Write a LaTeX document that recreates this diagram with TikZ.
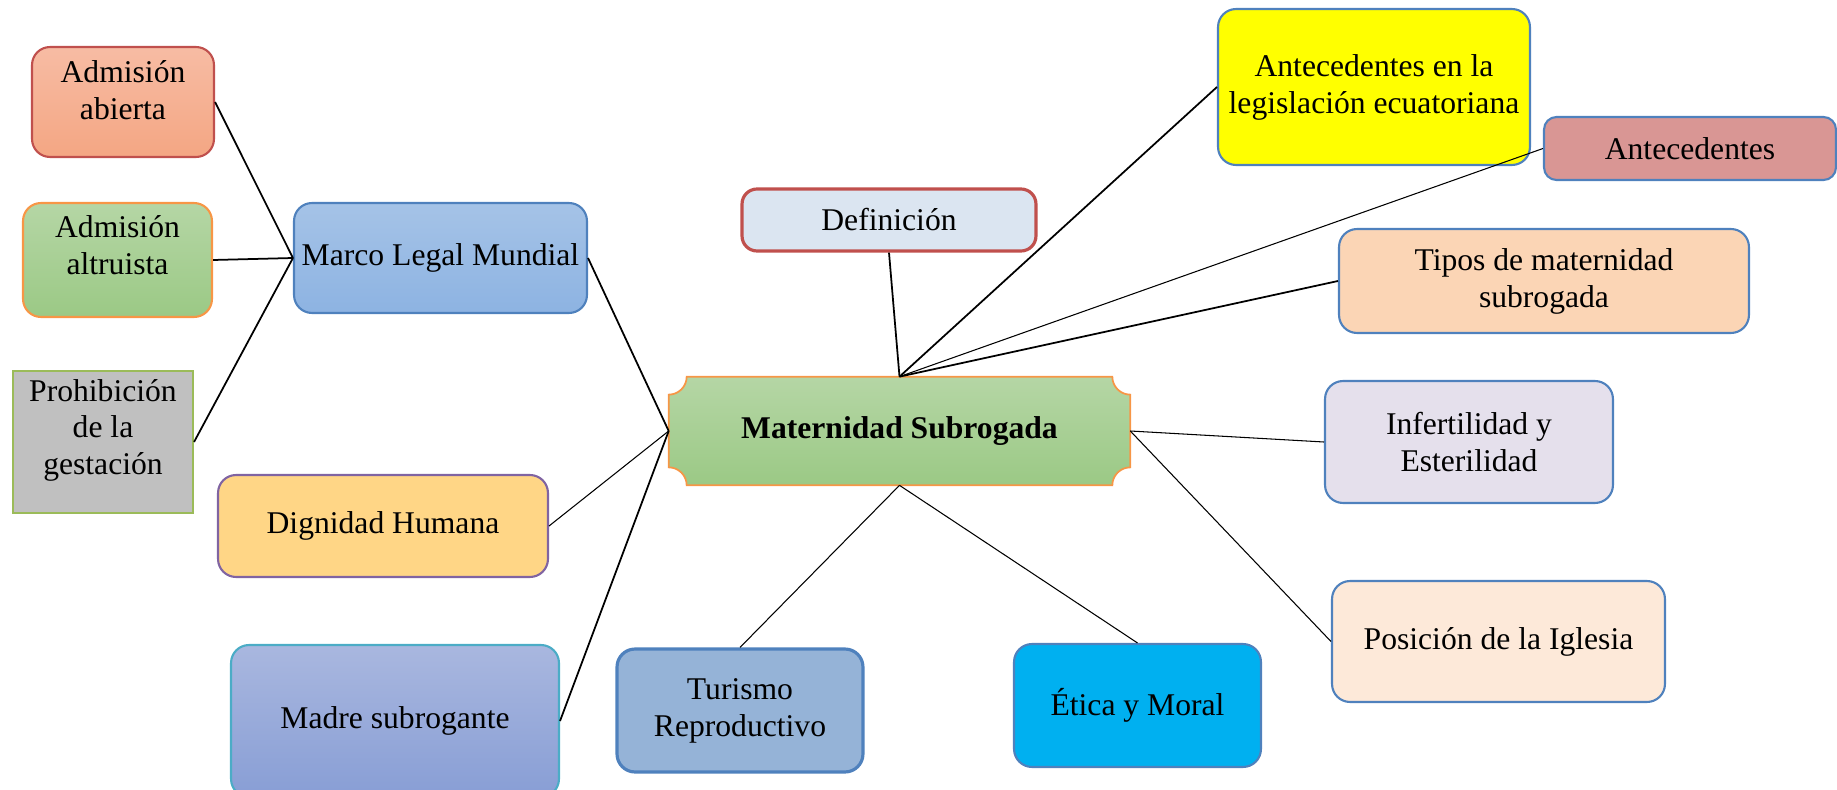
\documentclass[tikz,border=0pt]{standalone}
\usepackage{fontspec}
\setmainfont{Liberation Serif}
\usetikzlibrary{backgrounds}

\definecolor{salmonA}{HTML}{F7BCA4}
\definecolor{salmonB}{HTML}{F4A683}
\definecolor{bordeRojo}{HTML}{C0504D}
\definecolor{verdeA}{HTML}{B5D6A5}
\definecolor{verdeB}{HTML}{9BC985}
\definecolor{bordeNaranja}{HTML}{F79646}
\definecolor{gris}{HTML}{C0C0C0}
\definecolor{bordeOliva}{HTML}{9BBB59}
\definecolor{azulA}{HTML}{A5C3E7}
\definecolor{azulB}{HTML}{8DB3E2}
\definecolor{bordeAzul}{HTML}{4F81BD}
\definecolor{amarillo}{HTML}{FFD686}
\definecolor{bordeMorado}{HTML}{8064A2}
\definecolor{lilaA}{HTML}{A9B7DF}
\definecolor{lilaB}{HTML}{889ED5}
\definecolor{bordeCian}{HTML}{4BACC6}
\definecolor{azulGris}{HTML}{95B3D7}
\definecolor{celeste}{HTML}{00B0F0}
\definecolor{azulPalido}{HTML}{DBE5F1}
\definecolor{rosa}{HTML}{D99694}
\definecolor{durazno}{HTML}{FBD5B5}
\definecolor{lavanda}{HTML}{E5E0EC}
\definecolor{crema}{HTML}{FDE9D9}
\definecolor{amarilloPuro}{HTML}{FFFF00}

\tikzset{
  caja/.style={draw=bordeAzul, rounded corners=0.36cm, line width=1.2pt, align=center,
    font=\fontsize{18}{21}\selectfont},
  enlace/.style={draw, line width=1pt},
  enlacefino/.style={draw, line width=0.6pt}
}

\begin{document}
\begin{tikzpicture}[x=0.02cm,y=0.02cm]
\useasboundingbox (0,0) rectangle (1837,789);

\node[caja, draw=bordeRojo, top color=salmonA, bottom color=salmonB, minimum width=3.64cm, minimum height=2.2cm, text depth=0.47cm] (abierta) at (123,687) {Admisión\\abierta};
\node[caja, draw=bordeNaranja, top color=verdeA, bottom color=verdeB, minimum width=3.78cm, minimum height=2.28cm, text depth=0.6cm] (altruista) at (117.5,529) {Admisión\\altruista};
\node[caja, rounded corners=0pt, draw=bordeOliva, fill=gris, minimum width=3.6cm, minimum height=2.84cm, text depth=0.6cm] (prohibicion) at (103,347) {Prohibición\\de la\\gestación};
\node[caja, top color=azulA, bottom color=azulB, minimum width=5.86cm, minimum height=2.2cm] (marco) at (440.5,531) {Marco Legal Mundial};
\node[caja, draw=bordeMorado, fill=amarillo, minimum width=6.6cm, minimum height=2.04cm] (dignidad) at (383,263) {Dignidad Humana};
\node[caja, draw=bordeCian, top color=lilaA, bottom color=lilaB, minimum width=6.56cm, minimum height=3.04cm] (madre) at (395,68) {Madre subrogante};
\node[caja, line width=1.8pt, fill=azulGris, minimum width=4.92cm, minimum height=2.46cm] (turismo) at (740,78.5) {Turismo\\Reproductivo};
\node[caja, fill=celeste, minimum width=4.94cm, minimum height=2.46cm] (etica) at (1137.5,83.5) {Ética y Moral};

\node[font=\bfseries\fontsize{18}{21}\selectfont, minimum width=9.22cm, minimum height=2.16cm] (matsub) at (899.5,358) {Maternidad Subrogada};
\begin{scope}[on background layer]
\path[draw=bordeNaranja, line width=1pt, top color=verdeA, bottom color=verdeB]
  ([xshift=0.36cm]matsub.north west) -- ([xshift=-0.36cm]matsub.north east)
  arc[start angle=180, end angle=270, radius=0.36cm]
  -- ([yshift=0.36cm]matsub.south east)
  arc[start angle=90, end angle=180, radius=0.36cm]
  -- ([xshift=0.36cm]matsub.south west)
  arc[start angle=0, end angle=90, radius=0.36cm]
  -- ([yshift=-0.36cm]matsub.north west)
  arc[start angle=270, end angle=360, radius=0.36cm] -- cycle;
\end{scope}

\node[caja, draw=bordeRojo, line width=1.8pt, fill=azulPalido, rounded corners=0.3cm, minimum width=5.88cm, minimum height=1.24cm] (definicion) at (889,569) {Definición};
\node[caja, fill=amarilloPuro, minimum width=6.24cm, minimum height=3.12cm] (ecuador) at (1374,702) {Antecedentes en la\\legislación ecuatoriana};
\node[caja, fill=rosa, rounded corners=0.25cm, minimum width=5.84cm, minimum height=1.26cm] (antecedentes) at (1690,640.5) {Antecedentes};
\node[caja, fill=durazno, minimum width=8.2cm, minimum height=2.08cm] (tipos) at (1544,508) {Tipos de maternidad\\subrogada};
\node[caja, fill=lavanda, minimum width=5.76cm, minimum height=2.44cm] (infertilidad) at (1469,347) {Infertilidad y\\Esterilidad};
\node[caja, fill=crema, minimum width=6.66cm, minimum height=2.42cm] (iglesia) at (1498.5,147.5) {Posición de la Iglesia};

% rama izquierda
\path[enlace] (abierta.east) -- (marco.west);
\path[enlace] (altruista.east) -- (marco.west);
\path[enlace] (prohibicion.east) -- (marco.west);
\path[enlace] (marco.east) -- (matsub.west);
\path[enlacefino] (dignidad.east) -- (matsub.west);
\path[enlace] (madre.east) -- (matsub.west);

% rama superior
\path[enlace] (definicion.south) -- (matsub.north);
\path[enlace] (ecuador.west) -- (matsub.north);
\path[enlacefino] (antecedentes.west) -- (matsub.north);
\path[enlace] (tipos.west) -- (matsub.north);

% rama derecha e inferior
\path[enlacefino] (matsub.east) -- (infertilidad.west);
\path[enlacefino] (matsub.east) -- (iglesia.west);
\path[enlacefino] (matsub.south) -- (turismo.north);
\path[enlacefino] (matsub.south) -- (etica.north);
\end{tikzpicture}
\end{document}
